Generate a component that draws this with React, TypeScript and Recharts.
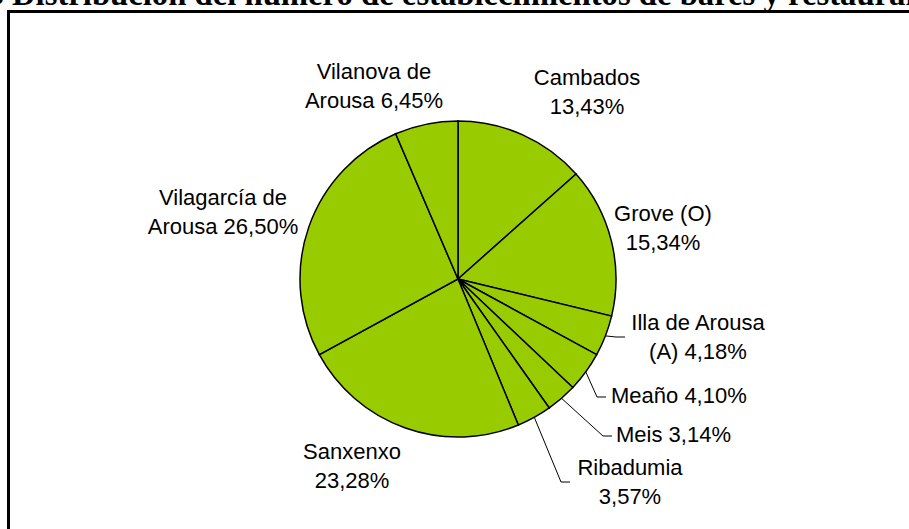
import { PieChart, Pie, Cell } from 'recharts';

// Distribución de bares y restaurantes por concello (%)
const municipios = [
    'Cambados',
    'Grove (O)',
    'Illa de Arousa (A)',
    'Meaño',
    'Meis',
    'Ribadumia',
    'Sanxenxo',
    'Vilagarcía de Arousa',
    'Vilanova de Arousa',
];
const porcentajes = [13.43, 15.34, 4.18, 4.10, 3.14, 3.57, 23.28, 26.50, 6.45];

const TITLE = '3 Distribución del número de establecimientos de bares y restaurantes';

const data = municipios.map((name, i) => ({ name, value: porcentajes[i] }));

// label placement relative to the pie centre (Excel put them by hand)
// words = how many words go on the first line (0 = everything on one line)
const labelLayout = [
    { x: 129, y: -202, anchor: 'middle', words: 1 },
    { x: 205, y: -66, anchor: 'middle', words: 2 },
    { x: 240, y: 43, anchor: 'middle', words: 3, leader: { x: 167, y: 58 } },
    { x: 153, y: 116, anchor: 'start', words: 0, leader: { x: 148, y: 118 } },
    { x: 158, y: 155, anchor: 'start', words: 0, leader: { x: 154, y: 157 } },
    { x: 172, y: 188, anchor: 'middle', words: 1, leader: { x: 112, y: 203 } },
    { x: -106, y: 172, anchor: 'middle', words: 1 },
    { x: -235, y: -82, anchor: 'middle', words: 2 },
    { x: -84, y: -208, anchor: 'middle', words: 2 },
];

const RADIAN = Math.PI / 180;
const LINE_H = 29;

const fmt = (v: number) => v.toFixed(2).replace('.', ',') + '%';

const renderLabel = (props: any) => {
    const { cx, cy, midAngle, outerRadius, index } = props;
    const lay = labelLayout[index];
    const words = `${data[index].name} ${fmt(data[index].value)}`.split(' ');
    const lines = lay.words > 0
        ? [words.slice(0, lay.words).join(' '), words.slice(lay.words).join(' ')]
        : [words.join(' ')];

    let leader = null;
    if (lay.leader) {
        const sx = cx + Math.cos(-midAngle * RADIAN) * outerRadius;
        const sy = cy + Math.sin(-midAngle * RADIAN) * outerRadius;
        const ex = cx + lay.leader.x;
        const ey = cy + lay.leader.y;
        leader = (
            <polyline
                points={`${sx},${sy} ${ex - 9},${ey} ${ex},${ey}`}
                fill="none"
                stroke="#000"
                strokeWidth={1}
            />
        );
    }

    return (
        <g key={`lbl-${index}`}>
            {leader}
            {lines.map((ln, k) => (
                <text
                    key={k}
                    x={cx + lay.x}
                    y={cy + lay.y + k * LINE_H}
                    textAnchor={lay.anchor as any}
                    dominantBaseline="central"
                    fontFamily="'Liberation Sans', Arial, sans-serif"
                    fontSize={22}
                    fill="#000"
                >
                    {ln}
                </text>
            ))}
        </g>
    );
};

export default function App() {
    return (
        <div style={{ position: 'absolute', left: 0, top: 0, width: 909, height: 529, overflow: 'hidden', background: '#fff' }}>
            {/* chart frame, runs off the right and bottom of the shot */}
            <div
                style={{
                    position: 'absolute',
                    left: 7,
                    top: 10,
                    width: 1000,
                    height: 1000,
                    border: '3px solid #000',
                }}
            />
            {/* title, mostly cut off at the top */}
            <div
                style={{
                    position: 'absolute',
                    left: -12.5,
                    top: -22,
                    whiteSpace: 'nowrap',
                    fontFamily: "'Liberation Serif', 'Times New Roman', serif",
                    fontWeight: 'bold',
                    fontSize: 32.7,
                    lineHeight: '32px',
                    color: '#000',
                }}
            >
                {TITLE}
            </div>
            <div style={{ position: 'absolute', left: 0, top: 0 }}>
                <PieChart width={909} height={529} margin={{ top: 0, right: 0, bottom: 0, left: 0 }}>
                    <Pie
                        data={data}
                        dataKey="value"
                        nameKey="name"
                        cx={458}
                        cy={279}
                        outerRadius={158}
                        startAngle={90}
                        endAngle={-270}
                        stroke="#000"
                        strokeWidth={1.5}
                        label={renderLabel}
                        labelLine={false}
                        isAnimationActive={false}
                    >
                        {data.map((d) => (
                            <Cell key={d.name} fill="#99CC00" />
                        ))}
                    </Pie>
                </PieChart>
            </div>
        </div>
    );
}
